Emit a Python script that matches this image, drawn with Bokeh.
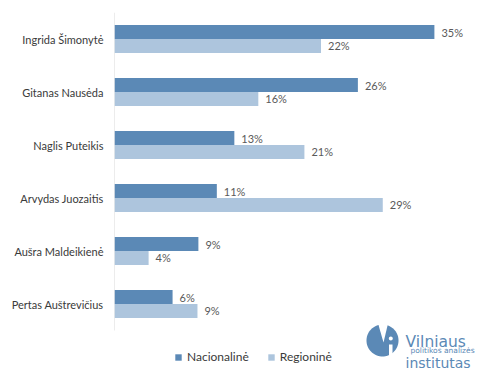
import math
from bokeh.plotting import figure
from bokeh.models import (ColumnDataSource, Range1d, Legend, LegendItem, Label,
                          PolyAnnotation, FixedTicker)
from bokeh.core.properties import value
from bokeh.embed import file_html
from bokeh.resources import INLINE

# ---- data ----
candidates = ["Ingrida Šimonytė", "Gitanas Nausėda", "Naglis Puteikis",
              "Arvydas Juozaitis", "Aušra Maldeikienė", "Pertas Auštrevičius"]
nacionaline = [34.7, 26.4, 13.0, 11.1, 9.1, 6.3]
regionine = [22.4, 15.6, 20.6, 29.1, 3.7, 9.0]
series_names = ["Nacionalinė", "Regioninė"]

NAT_COLOR = "#5b89b6"
REG_COLOR = "#adc5dd"
FONT = "Lato"
LOGO_FONT = "DejaVu Sans"
BH = 0.264  # bar thickness in category units

pos = list(range(len(candidates)))
src = ColumnDataSource(dict(
    pos=pos,
    y_nat=[i - BH / 2 for i in pos],
    y_reg=[i + BH / 2 for i in pos],
    nat=nacionaline,
    reg=regionine,
    nat_lbl=[f"{round(v)}%" for v in nacionaline],
    reg_lbl=[f"{round(v)}%" for v in regionine],
))

W, H = 500, 375
p = figure(width=W, height=H, output_backend="svg", toolbar_location=None,
           x_range=Range1d(0, 41.87), y_range=Range1d(6.349, -0.5),
           min_border_left=114, min_border_right=0, min_border_top=12, min_border_bottom=0)
p.outline_line_color = None
p.xgrid.visible = False
p.ygrid.visible = False
p.xaxis.visible = False
p.yaxis.ticker = FixedTicker(ticks=pos)
p.yaxis.major_label_overrides = {i: c for i, c in zip(pos, candidates)}
p.yaxis.axis_line_color = None
p.yaxis.major_tick_line_color = None
p.yaxis.minor_tick_line_color = None
p.yaxis.major_tick_out = 0
p.yaxis.major_tick_in = 0
p.yaxis.major_label_standoff = 11
p.yaxis.major_label_text_font = FONT
p.yaxis.major_label_text_font_size = "11px"
p.yaxis.major_label_text_color = "#3a3a3a"

# axis line spanning the category band
p.segment(x0=[0], y0=[pos[0] - 0.5], x1=[0], y1=[pos[-1] + 0.5],
          line_color="#d9d9d9", line_width=1)

r_nat = p.hbar(y="y_nat", right="nat", left=0, height=BH, source=src,
               fill_color=NAT_COLOR, line_color=None)
r_reg = p.hbar(y="y_reg", right="reg", left=0, height=BH, source=src,
               fill_color=REG_COLOR, line_color=None)

for col, ycol, lbl in (("nat", "y_nat", "nat_lbl"), ("reg", "y_reg", "reg_lbl")):
    p.text(x=col, y=ycol, text=lbl, source=src,
           x_offset=7, text_baseline="middle", text_align="left",
           text_font=value(FONT), text_font_size="11px", text_color="#595959")

# ---- legend / logo, positioned in screen units relative to frame bottom-left ----
FL, FB = 114, H
def sx(x): return x - FL
def sy(y): return FB - y

legend = Legend(items=[LegendItem(label=series_names[0], renderers=[r_nat]),
                       LegendItem(label=series_names[1], renderers=[r_reg])],
                orientation="horizontal", location=(sx(174), sy(364)),
                glyph_width=8, glyph_height=8, label_standoff=5, spacing=18,
                padding=0, margin=0, border_line_color=None, background_fill_alpha=0,
                label_text_font=FONT, label_text_font_size="12px", label_text_color="#3a3a3a",
                label_height=14)
p.add_layout(legend, "center")

def poly(xs, ys, color):
    p.add_layout(PolyAnnotation(xs=[sx(x) for x in xs], ys=[sy(y) for y in ys],
                                xs_units="screen", ys_units="screen",
                                fill_color=color, fill_alpha=1, line_color=None))

cx, cy, rr = 382, 340, 16
poly([cx + rr * math.cos(t * 2 * math.pi / 72) for t in range(72)],
     [cy + rr * math.sin(t * 2 * math.pi / 72) for t in range(72)], NAT_COLOR)
poly([377, 388, 383], [321, 321, 342], "white")
poly([388.5, 392, 392, 388.5], [344, 344, 358, 358], "white")
poly([390.3 + 2 * math.cos(t * 2 * math.pi / 16) for t in range(16)],
     [338 + 2 * math.sin(t * 2 * math.pi / 16) for t in range(16)], "white")

for txt, x, y, size in (("Vilniaus", 405, 341, "15.5px"),
                        ("politikos analizės", 410, 349.5, "7.5px"),
                        ("institutas", 405, 362, "14px")):
    p.add_layout(Label(x=sx(x), y=sy(y), x_units="screen", y_units="screen", text=txt,
                       text_font=LOGO_FONT, text_font_size=size, text_color=NAT_COLOR,
                       text_baseline="alphabetic"))

open("out.html", "w").write(file_html(p, INLINE))
